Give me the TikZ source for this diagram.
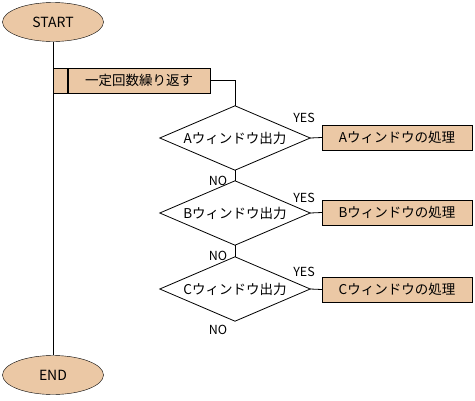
\documentclass[tikz,border=0pt]{standalone}
\usepackage{fontspec}
\setmainfont{Noto Sans CJK JP}
\usetikzlibrary{shapes.geometric}
\definecolor{boxfill}{RGB}{235,200,165}
\tikzset{
  every node/.style={font=\fontsize{13.5}{15}\selectfont},
  term/.style={ellipse,draw,fill=boxfill,minimum width=101pt,minimum height=39pt,inner sep=0pt,font=\fontsize{14}{16}\selectfont},
  proc/.style={rectangle,draw,fill=boxfill,minimum width=150pt,minimum height=25pt,inner sep=0pt},
  loopbox/.style={rectangle,draw,fill=boxfill,minimum width=142pt,minimum height=25pt,inner sep=0pt},
  dec/.style={rectangle,minimum width=150pt,minimum height=64pt,inner sep=0pt},
  lbl/.style={font=\fontsize{12.5}{14}\selectfont,inner sep=0pt},
  line/.style={draw,line width=0.8pt}
}
\begin{document}
\begin{tikzpicture}[x=1pt,y=-1pt]
\useasboundingbox (0,0) rectangle (475,400);
\node[term] (start) at (53,22) {START};
\node[term] (end) at (53,375) {END};
\draw[line] (start.south) -- (end.north);
\node[loopbox] (loop) at (139,80.5) {一定回数繰り返す};
\draw[line,fill=boxfill] (53,68) rectangle (loop.south west);
\node[dec] (dA) at (235,138) {Aウィンドウ出力};
\node[dec] (dB) at (235,213) {Bウィンドウ出力};
\node[dec] (dC) at (235,289) {Cウィンドウ出力};
\foreach \d in {dA,dB,dC}
  \draw[line] (\d.west) -- (\d.north) -- (\d.east) -- (\d.south) -- cycle;
\node[proc] (bA) at (397,137.5) {Aウィンドウの処理};
\node[proc] (bB) at (397,212.5) {Bウィンドウの処理};
\node[proc] (bC) at (397,289.5) {Cウィンドウの処理};
\draw[line] (loop.east) -| (dA.north);
\draw[line] (dA.south) -- (dB.north);
\draw[line] (dB.south) -- (dC.north);
\draw[line] (dA.east) -- (bA.west);
\draw[line] (dB.east) -- (bB.west);
\draw[line] (dC.east) -- (bC.west);
\node[lbl] (yA) at (304,118) {YES};
\node[lbl] (yB) at (304,198) {YES};
\node[lbl] (yC) at (304,272) {YES};
\node[lbl] (nA) at (218,181) {NO};
\node[lbl] (nB) at (218,256) {NO};
\node[lbl] (nC) at (218,330) {NO};
\end{tikzpicture}
\end{document}
